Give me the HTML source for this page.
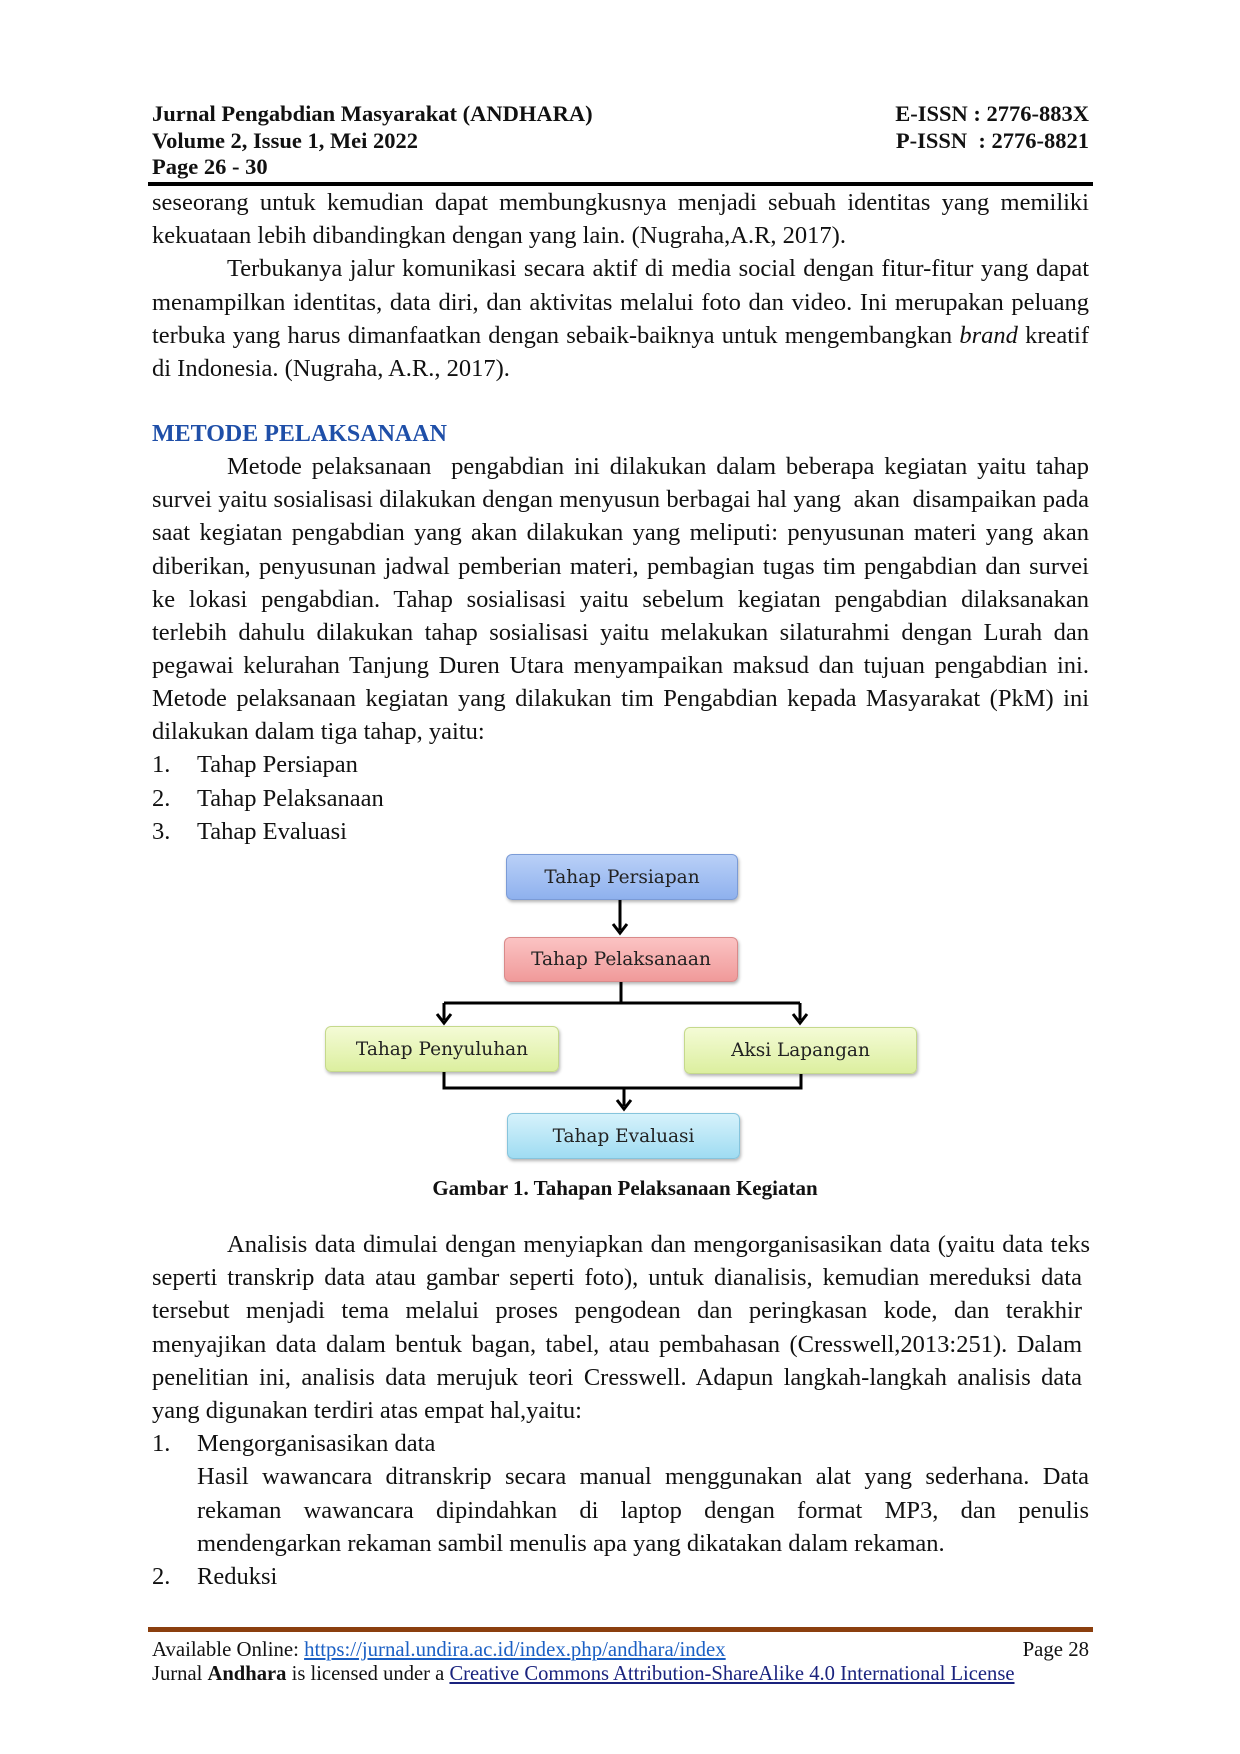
<!DOCTYPE html>
<html><head><meta charset="utf-8"><style>
body{margin:0;background:#fff;}
#p{position:relative;width:1240px;height:1754px;overflow:hidden;font-family:"Liberation Serif",serif;color:#111;}
.a{position:absolute;white-space:nowrap;}
.h{font-weight:bold;font-size:22.5px;}
.l{position:absolute;left:152px;width:937px;font-size:24.5px;line-height:30px;text-align:justify;text-align-last:justify;white-space:nowrap;}
.ln{text-align-last:left;}
.t{position:absolute;font-size:24.5px;line-height:30px;white-space:nowrap;}
.box{position:absolute;border-radius:6px;box-sizing:border-box;font-size:18.5px;color:#222;display:flex;align-items:center;justify-content:center;box-shadow:1px 2px 3px rgba(0,0,0,.3);font-family:"DejaVu Serif",serif;}
</style></head><body><div id="p">
<div class="a h" style="left:152px;top:101px">Jurnal Pengabdian Masyarakat (ANDHARA)</div>
<div class="a h" style="left:152px;top:128px">Volume 2, Issue 1, Mei 2022</div>
<div class="a h" style="left:152px;top:154px">Page 26 - 30</div>
<div class="a h" style="right:151px;top:101px">E-ISSN : 2776-883X</div>
<div class="a h" style="right:151px;top:128px">P-ISSN &nbsp;: 2776-8821</div>
<div class="a" style="left:148px;top:182px;width:945px;height:4px;background:#000"></div>

<div class="l" style="top:188px">seseorang untuk kemudian dapat membungkusnya menjadi sebuah identitas yang memiliki</div>
<div class="l ln" style="top:221px">kekuataan lebih dibandingkan dengan yang lain. (Nugraha,A.R, 2017).</div>
<div class="l" style="top:254px;left:227px;width:862px">Terbukanya jalur komunikasi secara aktif di media social dengan fitur-fitur yang dapat</div>
<div class="l" style="top:288px">menampilkan identitas, data diri, dan aktivitas melalui foto dan video. Ini merupakan peluang</div>
<div class="l" style="top:321px">terbuka yang harus dimanfaatkan dengan sebaik-baiknya untuk mengembangkan <i>brand</i> kreatif</div>
<div class="l ln" style="top:354px">di Indonesia. (Nugraha, A.R., 2017).</div>

<div class="a" style="left:152px;top:421px;font-size:24px;font-weight:bold;color:#1f4fa8">METODE PELAKSANAAN</div>
<div class="l" style="top:452px;left:227px;width:862px">Metode pelaksanaan &nbsp;pengabdian ini dilakukan dalam beberapa kegiatan yaitu tahap</div>
<div class="l" style="top:485px">survei yaitu sosialisasi dilakukan dengan menyusun berbagai hal yang &nbsp;akan &nbsp;disampaikan pada</div>
<div class="l" style="top:518px">saat kegiatan pengabdian yang akan dilakukan yang meliputi: penyusunan materi yang akan</div>
<div class="l" style="top:552px">diberikan, penyusunan jadwal pemberian materi, pembagian tugas tim pengabdian dan survei</div>
<div class="l" style="top:585px">ke lokasi pengabdian. Tahap sosialisasi yaitu sebelum kegiatan pengabdian dilaksanakan</div>
<div class="l" style="top:618px">terlebih dahulu dilakukan tahap sosialisasi yaitu melakukan silaturahmi dengan Lurah dan</div>
<div class="l" style="top:651px">pegawai kelurahan Tanjung Duren Utara menyampaikan maksud dan tujuan pengabdian ini.</div>
<div class="l" style="top:684px">Metode pelaksanaan kegiatan yang dilakukan tim Pengabdian kepada Masyarakat (PkM) ini</div>
<div class="l ln" style="top:717px">dilakukan dalam tiga tahap, yaitu:</div>
<div class="t" style="left:152px;top:750px">1.</div><div class="t" style="left:197px;top:750px">Tahap Persiapan</div>
<div class="t" style="left:152px;top:784px">2.</div><div class="t" style="left:197px;top:784px">Tahap Pelaksanaan</div>
<div class="t" style="left:152px;top:817px">3.</div><div class="t" style="left:197px;top:817px">Tahap Evaluasi</div>

<div class="a" style="left:-4px;top:-8px;width:1240px;height:1300px">
<svg class="a" style="left:0;top:0" width="1240" height="1300">
<g stroke="#000" stroke-width="3" fill="none">
<path d="M624 908 V938"/>
<path d="M625 990 V1011 M448 1011 H804 M448 1011 V1028 M804 1011 V1028"/>
<path d="M448 1080 V1096 H805 V1082 M628 1096 V1114"/>
<path d="M617 932 L624 941 L631 932"/>
<path d="M441 1022 L448 1031 L455 1022"/>
<path d="M797 1022 L804 1031 L811 1022"/>
<path d="M621 1108 L628 1117 L635 1108"/>
</g>
</svg>
<div class="box" style="left:510px;top:862px;width:232px;height:46px;background:linear-gradient(#b9d0f7,#8fb1ee);border:1px solid #7b9bd6">Tahap Persiapan</div>
<div class="box" style="left:508px;top:945px;width:234px;height:45px;background:linear-gradient(#fbc3c3,#f09a9a);border:1px solid #d98a8a">Tahap Pelaksanaan</div>
<div class="box" style="left:329px;top:1034px;width:234px;height:46px;background:linear-gradient(#f4fbd6,#dcef9f);border:1px solid #c5d98c">Tahap Penyuluhan</div>
<div class="box" style="left:688px;top:1035px;width:233px;height:47px;background:linear-gradient(#f4fbd6,#dcef9f);border:1px solid #c5d98c">Aksi Lapangan</div>
<div class="box" style="left:511px;top:1121px;width:233px;height:46px;background:linear-gradient(#d6f2fb,#9fdcf2);border:1px solid #86c4dc">Tahap Evaluasi</div>
</div>

<div class="a" style="left:0;width:1250px;text-align:center;top:1176px;font-size:21px;font-weight:bold">Gambar 1. Tahapan Pelaksanaan Kegiatan</div>

<div class="l" style="top:1230px;left:227px;width:863px">Analisis data dimulai dengan menyiapkan dan mengorganisasikan data (yaitu data teks</div>
<div class="l" style="top:1263px;width:930px">seperti transkrip data atau gambar seperti foto), untuk dianalisis, kemudian mereduksi data</div>
<div class="l" style="top:1296px;width:930px">tersebut menjadi tema melalui proses pengodean dan peringkasan kode, dan terakhir</div>
<div class="l" style="top:1330px;width:930px">menyajikan data dalam bentuk bagan, tabel, atau pembahasan (Cresswell,2013:251). Dalam</div>
<div class="l" style="top:1363px;width:930px">penelitian ini, analisis data merujuk teori Cresswell. Adapun langkah-langkah analisis data</div>
<div class="l ln" style="top:1396px">yang digunakan terdiri atas empat hal,yaitu:</div>
<div class="t" style="left:152px;top:1429px">1.</div><div class="t" style="left:197px;top:1429px">Mengorganisasikan data</div>
<div class="l" style="top:1462px;left:197px;width:892px">Hasil wawancara ditranskrip secara manual menggunakan alat yang sederhana. Data</div>
<div class="l" style="top:1496px;left:197px;width:892px">rekaman wawancara dipindahkan di laptop dengan format MP3, dan penulis</div>
<div class="l ln" style="top:1529px;left:197px;width:892px">mendengarkan rekaman sambil menulis apa yang dikatakan dalam rekaman.</div>
<div class="t" style="left:152px;top:1562px">2.</div><div class="t" style="left:197px;top:1562px">Reduksi</div>

<div class="a" style="left:148px;top:1627px;width:945px;height:5px;background:#8b3f0e"></div>
<div class="a" style="left:152px;top:1638px;font-size:20.8px">Available Online: <span style="color:#1a5fc4;text-decoration:underline">https://jurnal.undira.ac.id/index.php/andhara/index</span></div>
<div class="a" style="right:151px;top:1638px;font-size:20.8px">Page 28</div>
<div class="a" style="left:152px;top:1663px;font-size:20.6px">Jurnal <b>Andhara</b> is licensed under a <span style="color:#1a237e;text-decoration:underline">Creative Commons Attribution-ShareAlike 4.0 International License</span></div>
</div></body></html>
